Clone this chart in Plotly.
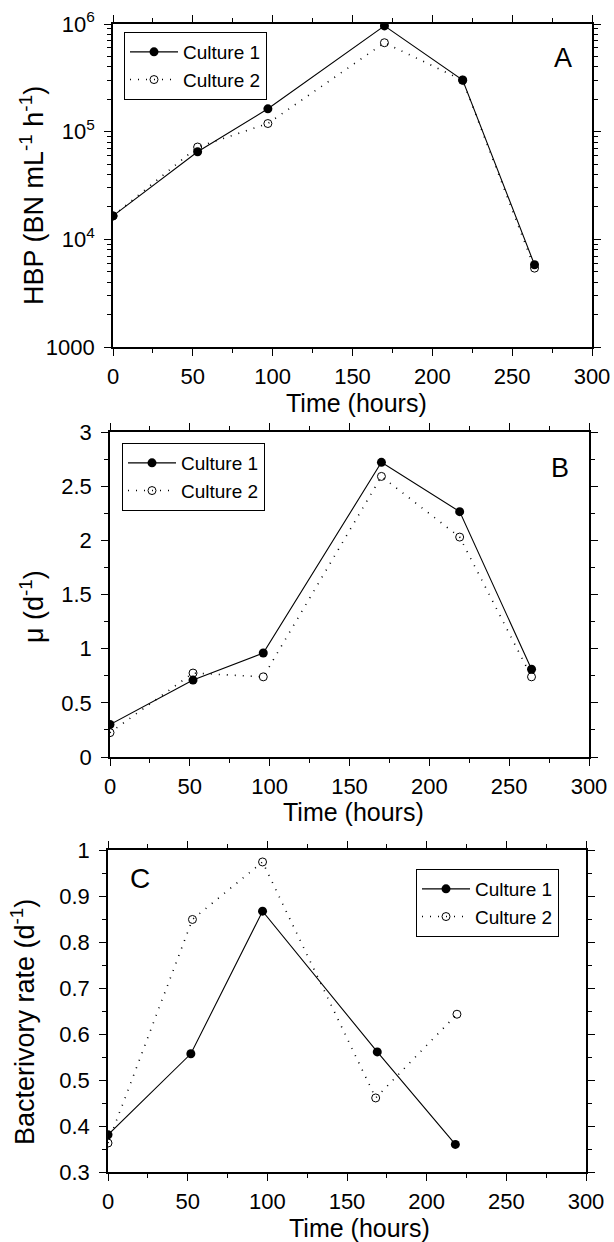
import plotly.graph_objects as go

# ---- data ----
hbp_t1 = [0, 53, 97, 170, 219, 264]
hbp_c1 = [16500, 65000, 163000, 960000, 302000, 5800]
hbp_t2 = [0, 53, 97, 170, 219, 264]
hbp_c2 = [16500, 72000, 119000, 670000, 300000, 5400]

mu_t = [0, 52, 96, 170, 219, 264]
mu_c1 = [0.30, 0.71, 0.96, 2.72, 2.265, 0.81]
mu_c2 = [0.225, 0.775, 0.74, 2.59, 2.03, 0.74]

bac_t1 = [0, 52, 97, 169, 218]
bac_c1 = [0.381, 0.557, 0.867, 0.561, 0.360]
bac_t2 = [0, 53, 97, 168, 219]
bac_c2 = [0.363, 0.849, 0.974, 0.461, 0.643]

time_ticks = [0, 50, 100, 150, 200, 250, 300]
time_minor = [25, 75, 125, 175, 225, 275]

W, H = 614, 1242
FONT = "Liberation Sans, Arial, sans-serif"
TICK = 22
XTITLE = 25
YTITLE = 27


def px_x(p):
    return p / W


def px_y(p):
    return 1 - p / H


fig = go.Figure()


def add_pair(t1, c1, t2, c2, xa, ya, leg):
    fig.add_trace(go.Scatter(x=t1, y=c1, mode="lines+markers", name="Culture 1",
                             line=dict(color="black", width=1.1),
                             marker=dict(symbol="circle", size=9, color="black"),
                             xaxis=xa, yaxis=ya, legend=leg))
    fig.add_trace(go.Scatter(x=t2, y=c2, mode="lines+markers", name="Culture 2",
                             line=dict(color="black", width=1.6, dash="1px,7px"),
                             marker=dict(symbol="circle-open", size=8, color="black",
                                         line=dict(width=1)),
                             xaxis=xa, yaxis=ya, legend=leg))


add_pair(hbp_t1, hbp_c1, hbp_t2, hbp_c2, "x", "y", "legend")
add_pair(mu_t, mu_c1, mu_t, mu_c2, "x2", "y2", "legend2")
add_pair(bac_t1, bac_c1, bac_t2, bac_c2, "x3", "y3", "legend3")

# left, right, top, bottom (pixels)
panels = [
    (113, 592, 24, 347),
    (110, 589, 432, 757),
    (108, 586, 850, 1172),
]

common = dict(ticks="outside", ticklen=7, tickwidth=1, tickcolor="black",
              showline=True, linecolor="black", linewidth=1.6, mirror="ticks",
              showgrid=False, zeroline=False,
              tickfont=dict(family=FONT, size=TICK, color="black"),
              automargin=False)


def xaxis_cfg(l, r, anchor):
    return dict(domain=[px_x(l), px_x(r)], range=[0, 300], anchor=anchor,
                tickvals=time_ticks,
                minor=dict(tickvals=time_minor, ticks="outside", ticklen=4,
                           tickcolor="black"),
                ticklabelstandoff=2, **common)


minor_log = []
for dec in [1000, 10000, 100000]:
    for k in range(2, 10):
        minor_log.append(dec * k)

(l, r, t, b) = panels[0]
fig.update_layout(xaxis=xaxis_cfg(l, r, "y"))
fig.update_layout(yaxis=dict(
    domain=[px_y(b), px_y(t)], type="log", range=[3, 6], anchor="x",
    tickvals=[1000, 10000, 100000, 1000000],
    ticktext=["1000", "10<sup>4</sup>", "10<sup>5</sup>", "10<sup>6</sup>"],
    minor=dict(tickvals=minor_log, ticks="outside", ticklen=4, tickcolor="black"),
    ticklabelstandoff=5, **common))

(l, r, t, b) = panels[1]
fig.update_layout(xaxis2=xaxis_cfg(l, r, "y2"))
fig.update_layout(yaxis2=dict(
    domain=[px_y(b), px_y(t)], range=[0, 3], anchor="x2",
    tickvals=[0, 0.5, 1, 1.5, 2, 2.5, 3],
    ticktext=["0", "0.5", "1", "1.5", "2", "2.5", "3"],
    minor=dict(tickvals=[0.25, 0.75, 1.25, 1.75, 2.25, 2.75], ticks="outside",
               ticklen=4, tickcolor="black"),
    ticklabelstandoff=5, **common))

(l, r, t, b) = panels[2]
fig.update_layout(xaxis3=xaxis_cfg(l, r, "y3"))
fig.update_layout(yaxis3=dict(
    domain=[px_y(b), px_y(t)], range=[0.3, 1.0], anchor="x3",
    tickvals=[0.3, 0.4, 0.5, 0.6, 0.7, 0.8, 0.9, 1.0],
    ticktext=["0.3", "0.4", "0.5", "0.6", "0.7", "0.8", "0.9", "1"],
    minor=dict(tickvals=[0.35, 0.45, 0.55, 0.65, 0.75, 0.85, 0.95], ticks="outside",
               ticklen=4, tickcolor="black"),
    ticklabelstandoff=5, **common))


def legend_cfg(xp, yp):
    return dict(x=px_x(xp), y=px_y(yp), xanchor="left", yanchor="top",
                bgcolor="white", bordercolor="black", borderwidth=1,
                font=dict(family=FONT, size=19, color="black"),
                tracegroupgap=0, itemwidth=48)


fig.update_layout(
    legend=legend_cfg(124, 32),
    legend2=legend_cfg(122, 443),
    legend3=legend_cfg(416, 869),
)


def label(text, xp, yp, size, angle=0):
    fig.add_annotation(text=text, x=px_x(xp), y=px_y(yp), xref="paper", yref="paper",
                       xanchor="center", yanchor="middle", textangle=angle,
                       showarrow=False, font=dict(family=FONT, size=size, color="black"))


# panel letters
label("A", 563, 58, 27)
label("B", 560, 468, 27)
label("C", 140, 878, 28)

# x titles
label("Time (hours)", 356, 403, XTITLE)
label("Time (hours)", 353, 812, XTITLE)
label("Time (hours)", 359, 1228, XTITLE)

# y titles
label("HBP (BN mL<sup>-1</sup> h<sup>-1</sup>)", 32, 196, YTITLE, -90)
label("μ (d<sup>-1</sup>)", 32, 607, YTITLE, -90)
label("Bacterivory rate (d<sup>-1</sup>)", 23, 1022, YTITLE, -90)

fig.update_layout(width=W, height=H, margin=dict(l=0, r=0, t=0, b=0),
                  paper_bgcolor="white", plot_bgcolor="white", showlegend=True)

fig.write_html("out.html")
